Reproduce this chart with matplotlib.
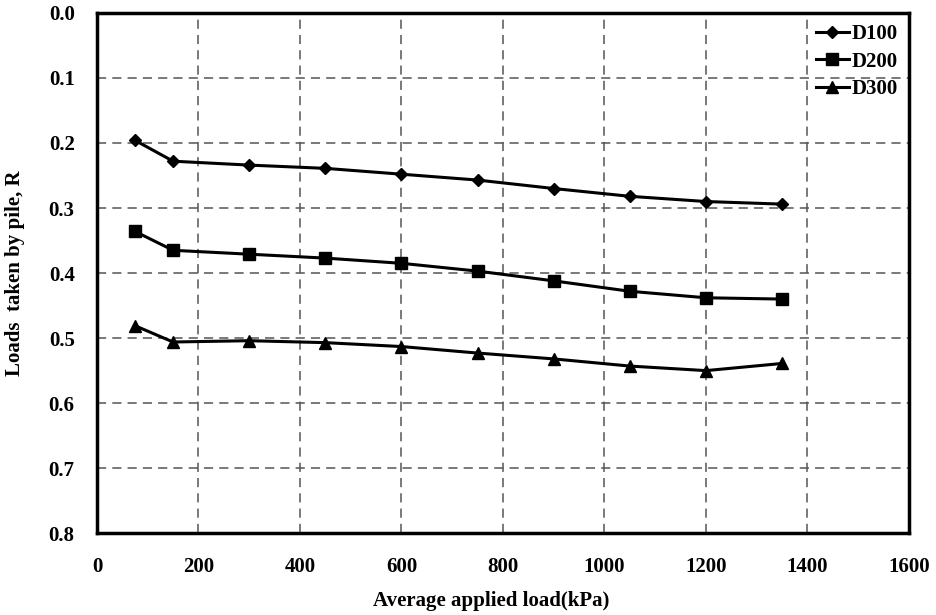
import matplotlib.pyplot as plt

plt.rcParams['font.family'] = ['Liberation Serif', 'DejaVu Serif']
plt.rcParams['font.weight'] = 'bold'

load = [75, 150, 300, 450, 600, 750, 900, 1050, 1200, 1350]
d100 = [0.196, 0.228, 0.234, 0.239, 0.248, 0.257, 0.270, 0.282, 0.290, 0.294]
d200 = [0.336, 0.365, 0.371, 0.377, 0.385, 0.397, 0.412, 0.428, 0.438, 0.440]
d300 = [0.481, 0.506, 0.504, 0.507, 0.513, 0.523, 0.532, 0.543, 0.550, 0.539]

fig = plt.figure(figsize=(9.36, 6.15), dpi=100)
ax = fig.add_axes([0.1036, 0.133, 0.8675, 0.846])

ax.plot(load, d100, '-', color='black', lw=2.2, marker='D', ms=6, label='D100')
ax.plot(load, d200, '-', color='black', lw=2.2, marker='s', ms=8, label='D200')
ax.plot(load, d300, '-', color='black', lw=2.2, marker='^', ms=8, label='D300')

ax.set_xlim(0, 1600)
ax.set_ylim(0.8, 0.0)
ax.set_xticks(range(0, 1601, 200))
ax.set_yticks([i / 10 for i in range(9)])
ax.set_yticklabels(['%.1f' % (i / 10) for i in range(9)])
ax.tick_params(length=0, labelsize=15)
ax.tick_params(axis='x', pad=17)
ax.tick_params(axis='y', pad=16)
for lab in ax.get_xticklabels() + ax.get_yticklabels():
    lab.set_fontweight('bold')

ax.grid(True, linestyle=(0, (6, 4)), color='#555555', lw=1.1)
for s in ax.spines.values():
    s.set_linewidth(2.5)

ax.set_xlabel('Average applied load(kPa)', fontsize=15, fontweight='bold')
ax.xaxis.set_label_coords(0.485, -0.112)
ax.set_ylabel('Loads  taken by pile, R', fontsize=15, fontweight='bold')
ax.yaxis.set_label_coords(-0.089, 0.5)

ax.legend(loc='upper right', frameon=False, handlelength=1.6,
          handletextpad=0.1, labelspacing=0.35, borderaxespad=0.15,
          prop={'weight': 'bold', 'size': 15})

fig.savefig('out.png', dpi=100)
